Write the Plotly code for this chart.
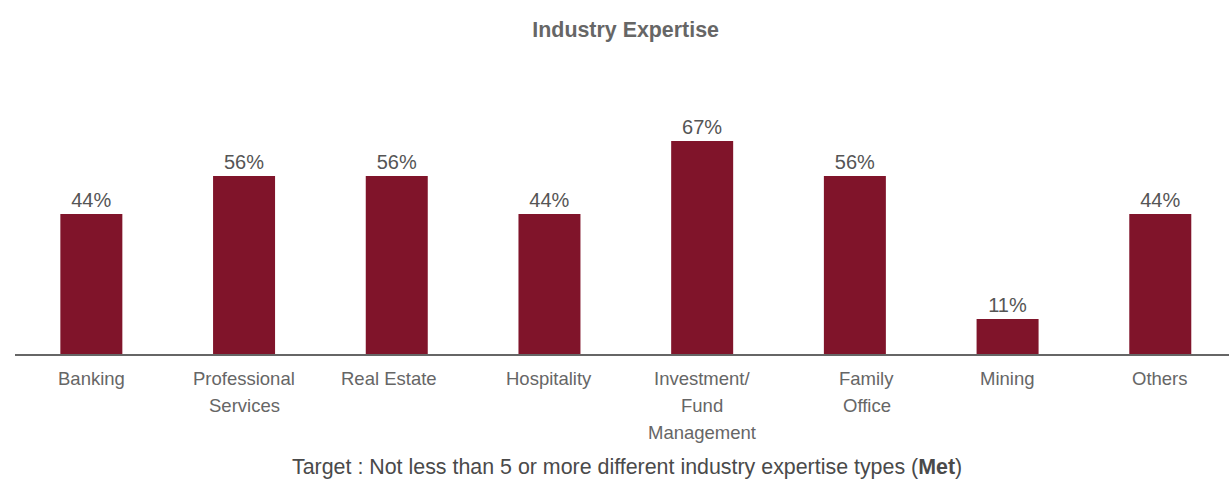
import plotly.graph_objects as go

categories = ["Banking", "Professional<br>Services", "Real Estate", "Hospitality",
              "Investment/<br>Fund<br>Management", "Family<br>Office", "Mining", "Others"]
shares = [44, 56, 56, 44, 67, 56, 11, 44]
share_labels = [f"{v}%" for v in shares]

BAR_COLOR = "#80142a"
FONT = "Liberation Sans, Arial, sans-serif"

# horizontal nudges for a couple of category labels (pixels)
LABEL_NUDGE = {2: -8, 5: 12}

fig = go.Figure(
    go.Bar(
        x=list(range(len(categories))),
        y=shares,
        text=share_labels,
        textposition="outside",
        textfont=dict(size=20, color="#555555", family=FONT),
        marker=dict(color=BAR_COLOR, line=dict(width=0)),
        width=0.406,
        cliponaxis=False,
        hoverinfo="skip",
    )
)

# category labels, one annotation per line so the line spacing can be set
annotations = []
for i, label in enumerate(categories):
    for j, line in enumerate(label.split("<br>")):
        annotations.append(dict(
            x=i, y=0, xref="x", yref="y",
            text=line, showarrow=False,
            yanchor="middle", xanchor="center",
            xshift=LABEL_NUDGE.get(i, 0),
            yshift=-(24 + 27 * j),
            font=dict(size=18.5, color="#666666", family=FONT),
        ))

annotations.append(dict(
    x=0.5, y=-(467 - 354) / 274, xref="paper", yref="paper",
    text="Target : Not less than 5 or more different industry expertise types (<b>Met</b>)",
    showarrow=False, xanchor="center", yanchor="middle",
    xshift=5,
    font=dict(size=21.4, color="#4a4a4a", family=FONT),
))

fig.update_layout(
    width=1229, height=479,
    margin=dict(l=15, r=0, t=80, b=125),
    paper_bgcolor="white", plot_bgcolor="white",
    showlegend=False,
    title=dict(
        text="<b>Industry Expertise</b>",
        x=0.503, xref="paper", xanchor="center",
        y=1 - 30 / 479, yref="container", yanchor="middle",
        font=dict(size=21.4, color="#666666", family=FONT),
    ),
    xaxis=dict(
        range=[-0.5, 7.45],
        showticklabels=False, ticks="",
        showgrid=False, zeroline=False,
        showline=True, linecolor="#666666", linewidth=2,
        fixedrange=True,
    ),
    yaxis=dict(
        range=[0, 274 / 3.18],
        visible=False, showgrid=False, zeroline=False,
        fixedrange=True,
    ),
    annotations=annotations,
)

fig.write_html("out.html", config={"displayModeBar": False})
